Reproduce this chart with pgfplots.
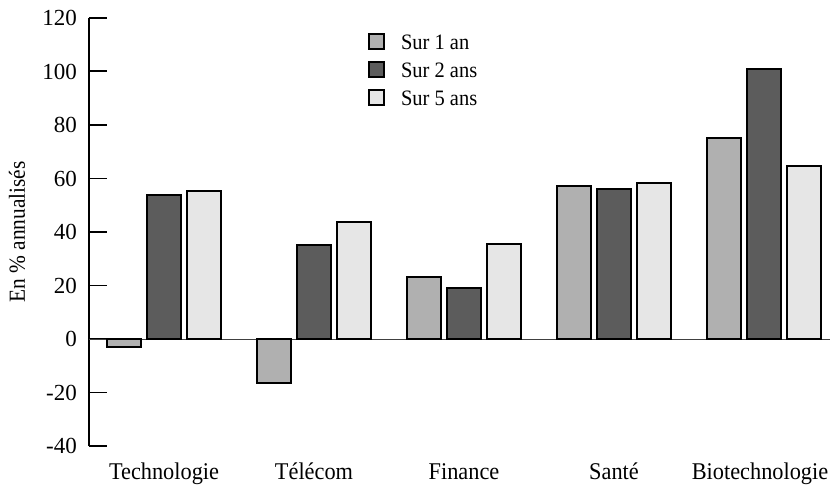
\documentclass[border=0pt]{standalone}
\usepackage{fontspec}
\setmainfont{Liberation Serif}
\newfontfamily\cond{Liberation Serif}[FakeStretch=0.93]
\usepackage{pgfplots}
\pgfplotsset{compat=1.18}
\definecolor{cA}{HTML}{B0B0B0}
\definecolor{cB}{HTML}{5C5C5C}
\definecolor{cC}{HTML}{E6E6E6}
\pgfplotsset{
  sqleg/.style={legend image code/.code={\draw[##1, line width=1.8pt] (0bp,-6bp) rectangle (15bp,9bp); \path (31bp,0bp);}}
}
\begin{document}
\begin{tikzpicture}[font=\fontsize{23bp}{27bp}\selectfont]
\begin{axis}[
  at={(0,0)}, anchor=south west,
  scale only axis, width=741bp, height=428bp,
  xmin=-0.5, xmax=4.44, ymin=-40, ymax=120,
  ybar=6bp, bar width=34bp,
  axis y line*=left, axis x line*=bottom,
  x axis line style={draw=none},
  y axis line style={line width=1.4pt, -},
  xtick={0,1,2,3,4},
  xticklabels={Technologie,Télécom,Finance,Santé,{\hspace*{-8bp}Biotechnologie}},
  xtick style={draw=none},
  ytick={-40,-20,0,20,40,60,80,100,120},
  yticklabels={-40,-20,0,20,40,60,80,100,120},
  ytick style={line width=2pt, black},
  tick align=inside, major tick length=18bp,
  yticklabel style={font=\fontsize{23bp}{27bp}\selectfont, anchor=east, inner sep=0pt, xshift=-12bp},
  xticklabel style={font=\cond\fontsize{24bp}{28bp}\selectfont, anchor=base, inner sep=0pt, yshift=-33bp},
  ylabel={En \% annualisés},
  ylabel style={font=\cond\fontsize{23bp}{27bp}\selectfont, at={(axis description cs:-0.097,0.5)}, anchor=center, inner sep=0pt},
  extra y ticks={0}, extra y tick labels={},
  extra y tick style={grid=major, major grid style={black!75, line width=0.9pt}, major tick length=0pt},
  legend style={at={(rel axis cs:0.3765,0.965)}, anchor=north west, draw=none, fill=none,
    font=\cond\fontsize{22bp}{26bp}\selectfont, row sep=10bp, inner sep=0pt,
    nodes={inner sep=0pt}},
  legend cell align=left,
]
\addplot[fill=cA, draw=black, line width=2pt, sqleg] coordinates {(0,-3) (1,-16.5) (2,23) (3,57.2) (4,75)};
\addplot[fill=cB, draw=black, line width=2pt, sqleg] coordinates {(0,54) (1,35) (2,19) (3,56) (4,101)};
\addplot[fill=cC, draw=black, line width=2pt, sqleg] coordinates {(0,55.3) (1,43.7) (2,35.5) (3,58.3) (4,64.7)};
\legend{Sur 1 an, Sur 2 ans, Sur 5 ans}
\end{axis}
\pgfresetboundingbox
\useasboundingbox (-89bp,-40bp) rectangle (741bp,446bp);
\end{tikzpicture}
\end{document}
